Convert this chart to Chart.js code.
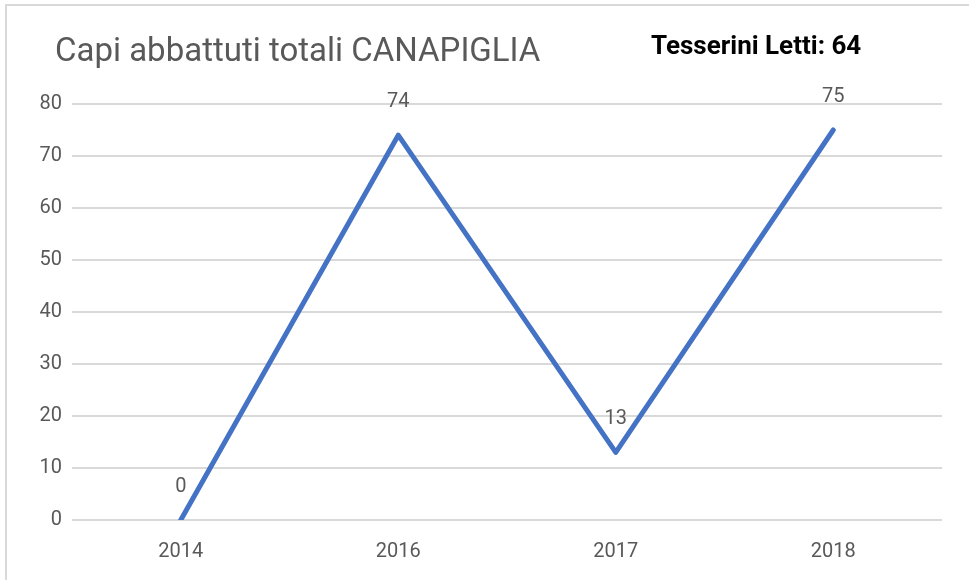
<!DOCTYPE html>
<html>
<head>
<meta charset="utf-8">
<script src="https://cdn.jsdelivr.net/npm/chart.js@4.4.0/dist/chart.umd.min.js"></script>
<style>
  html, body { margin: 0; padding: 0; background: #fff; overflow: hidden; }
  #frame { position: absolute; left: 5px; top: 4px; width: 1000px; height: 620px; border: 2px solid #d9d9d9; }
  #wrap { position: absolute; left: 0; top: 0; width: 969px; height: 580px; }
</style>
</head>
<body>
<div id="frame"></div>
<div id="wrap"><canvas id="chartCapi"></canvas></div>
<script>
// dati
const anni = ['2014', '2016', '2017', '2018'];
const capiAbbattuti = [0, 74, 13, 75];
const tickY = [0, 10, 20, 30, 40, 50, 60, 70, 80];
const titolo = 'Capi abbattuti totali CANAPIGLIA';
const tesserini = 'Tesserini Letti: 64';

const FONT = 'Roboto, "Noto Sans", sans-serif';

// titolo, riquadro tesserini ed etichette dei valori
const testiPlugin = {
    id: 'testi',
    afterDatasetsDraw(chart) {
        const ctx = chart.ctx;
        ctx.save();
        ctx.textBaseline = 'alphabetic';
        ctx.textAlign = 'left';
        ctx.fillStyle = '#595959';
        ctx.font = '33px ' + FONT;
        ctx.fillText(titolo, 55, 61);

        ctx.fillStyle = '#000';
        ctx.font = 'bold 26px ' + FONT;
        ctx.fillText(tesserini, 651, 54);

        const meta = chart.getDatasetMeta(0);
        ctx.fillStyle = '#595959';
        ctx.font = '20px ' + FONT;
        ctx.textAlign = 'center';
        ctx.textBaseline = 'middle';
        meta.data.forEach(function(pt, i) {
            ctx.fillText(String(capiAbbattuti[i]), pt.x, pt.y - 33);
        });
        ctx.restore();
    }
};

document.addEventListener('DOMContentLoaded', function() {
    const ctx = document.getElementById('chartCapi').getContext('2d');

    new Chart(ctx, {
        type: 'line',
        data: {
            labels: anni,
            datasets: [{
                label: 'Capi abbattuti',
                data: capiAbbattuti,
                borderColor: '#4472C4',
                borderWidth: 5,
                borderJoinStyle: 'round',
                borderCapStyle: 'round',
                fill: false,
                tension: 0,
                pointRadius: 0,
                pointHoverRadius: 0
            }]
        },
        options: {
            responsive: true,
            maintainAspectRatio: false,
            animation: false,
            layout: { padding: { top: 104, left: 0, right: 27, bottom: 0 } },
            plugins: {
                legend: { display: false },
                tooltip: { enabled: false },
                title: { display: false }
            },
            scales: {
                x: {
                    offset: true,
                    grid: { display: false, drawTicks: false },
                    border: { display: false },
                    ticks: { color: '#595959', padding: 20, font: { size: 20, family: FONT } },
                    afterFit: function(s) { s.height = 60; }
                },
                y: {
                    min: 0,
                    max: 80,
                    afterBuildTicks: function(s) { s.ticks = tickY.map(function(v) { return { value: v }; }); },
                    grid: { color: '#d9d9d9', lineWidth: 2, drawTicks: false },
                    border: { display: false },
                    ticks: { color: '#595959', padding: 10, font: { size: 20, family: FONT } },
                    afterFit: function(s) { s.width = 72; }
                }
            }
        },
        plugins: [testiPlugin]
    });
});
</script>
</body>
</html>
